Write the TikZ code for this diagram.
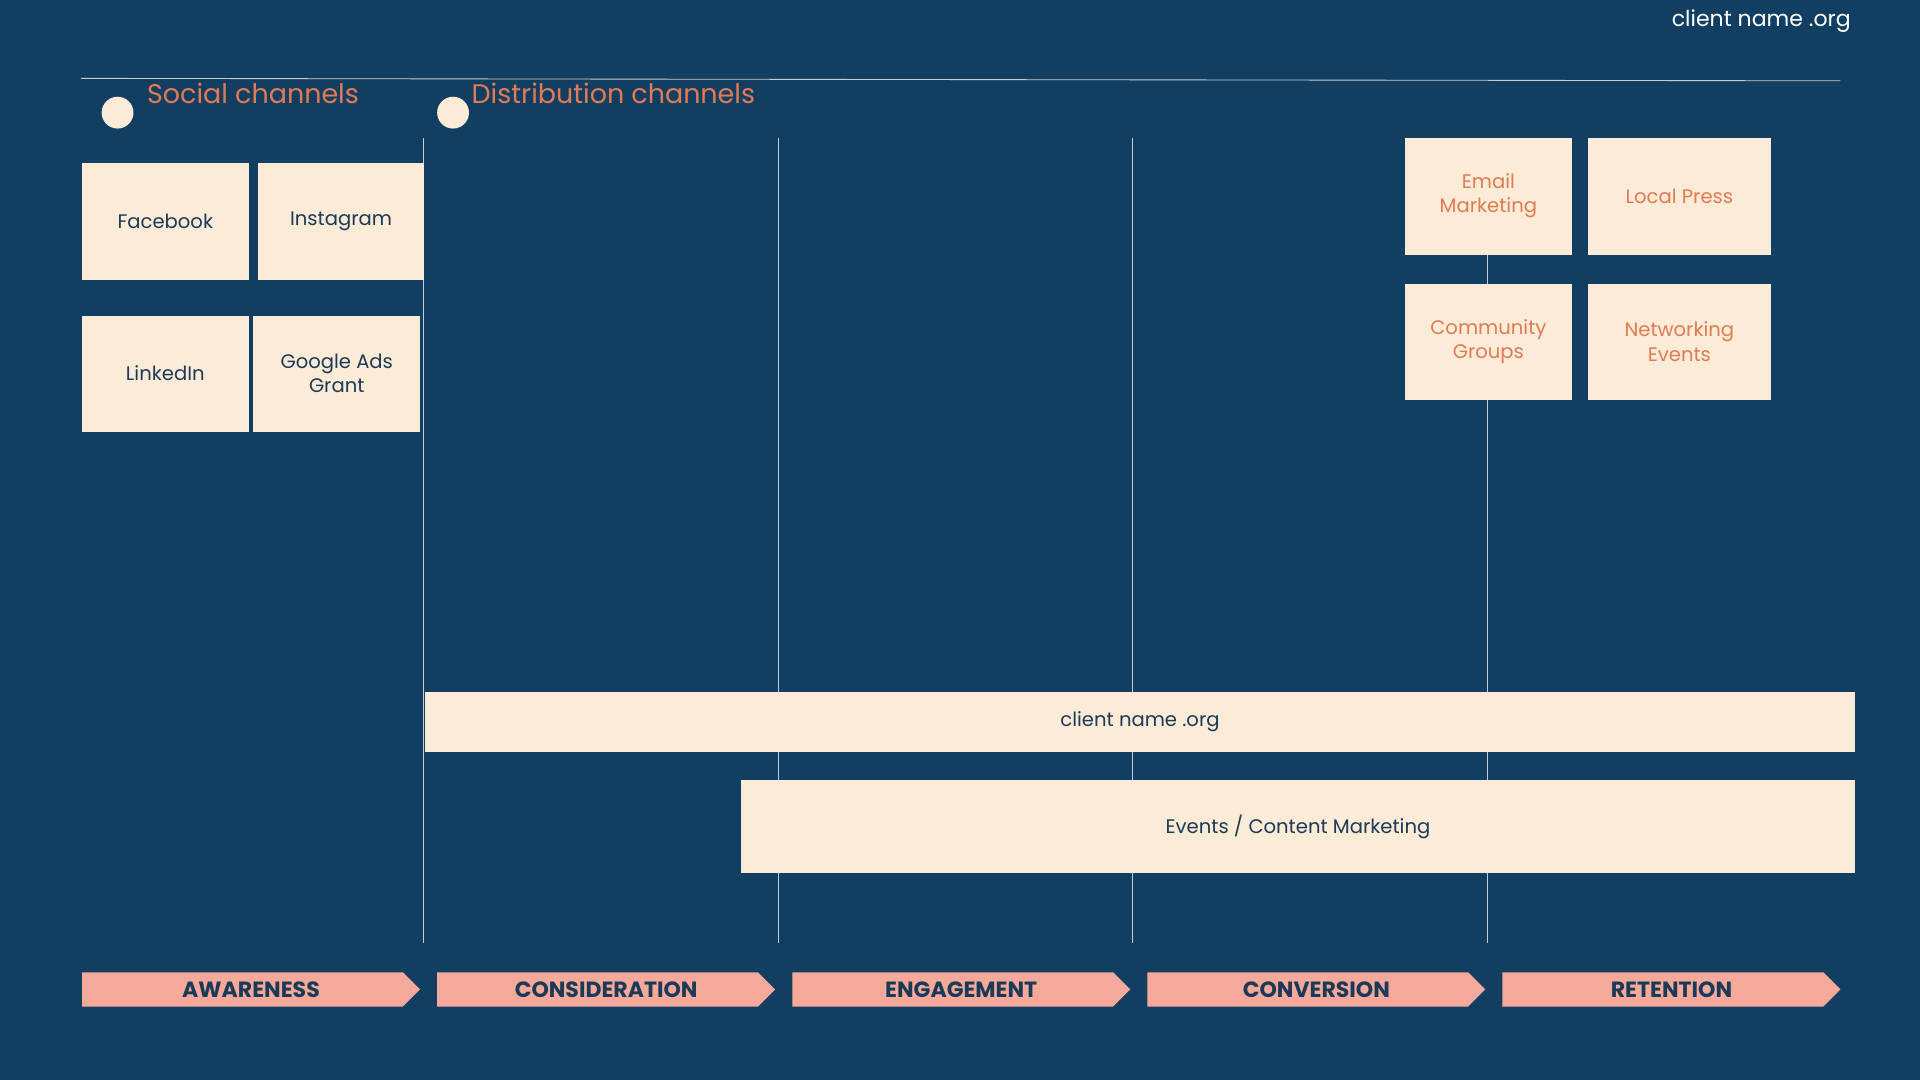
\documentclass[tikz,border=0pt]{standalone}
\usepackage{fontspec}
\setmainfont{Poppins}
\definecolor{bg}{HTML}{123F61}
\definecolor{cream}{HTML}{FCEBD6}
\definecolor{orng}{HTML}{E07B53}
\definecolor{salmon}{HTML}{F4A99B}
\definecolor{navy}{HTML}{1B3A57}
\definecolor{gline}{HTML}{C8CCD2}
\tikzset{
 card/.style={fill=cream,draw=none},
 cardtext/.style={align=center,font=\fontsize{16}{20}\selectfont},
 vline/.style={draw=gline,line width=0.7pt},
 stage/.style={fill=salmon,draw=none},
 stagetext/.style={font=\fontsize{18}{20}\selectfont\bfseries,text=navy},
}
\begin{document}
\begin{tikzpicture}[x=1pt,y=-1pt]
\fill[bg] (0,0) rectangle (1568,882);
\useasboundingbox (0,0) rectangle (1568,882);
\node[anchor=east,text=white,font=\fontsize{18}{20}\selectfont] (site) at (1515,17) {client name .org};
\coordinate (hl) at (66,64); \coordinate (hr) at (1503,66);
\draw[gline,line width=0.7pt] (hl) -- (hr);
\fill[cream] (96,92) circle (13); \fill[cream] (370,92) circle (13);
\node[anchor=west,text=orng,font=\fontsize{22}{24}\selectfont,inner sep=0] (soc) at (120,76) {Social channels};
\node[anchor=west,text=orng,font=\fontsize{22}{24}\selectfont,inner sep=0] (dist) at (385,76) {Distribution channels};
% vertical lines
\foreach \x/\n in {346/a,636/b,925/c,1215/d}{
  \coordinate (t\n) at (\x,113); \coordinate (b\n) at (\x,770);
  \draw[vline] (t\n) -- (b\n);}
% social cards
\fill[card] (67,133) rectangle (203,229); \node[cardtext,text=navy] (fb) at (135,181) {Facebook};
\fill[card] (211,133) rectangle (346,229); \node[cardtext,text=navy] (ig) at (278.5,181) {Instagram};
\fill[card] (67,258) rectangle (203,353); \node[cardtext,text=navy] (li) at (135,305) {LinkedIn};
\fill[card] (207,258) rectangle (343,353); \node[cardtext,text=navy] (ga) at (275,305) {Google Ads\\Grant};
% distribution cards
\fill[card] (1147,113) rectangle (1284,208); \node[cardtext,text=orng] (em) at (1215.5,160) {Email\\Marketing};
\fill[card] (1297,113) rectangle (1446,208); \node[cardtext,text=orng] (lp) at (1371.5,160) {Local Press};
\fill[card] (1147,232) rectangle (1284,327); \node[cardtext,text=orng] (cg) at (1215.5,279) {Community\\Groups};
\fill[card] (1297,232) rectangle (1446,327); \node[cardtext,text=orng] (ne) at (1371.5,279) {Networking\\Events};
% bars
\fill[card] (347,565) rectangle (1515,614); \node[cardtext,text=navy] (bar1) at (931,589) {client name .org};
\fill[card] (605,637) rectangle (1515,713); \node[cardtext,text=navy] (bar2) at (1060,675) {Events / Content Marketing};
% stages
\foreach \x/\t/\n in {67/AWARENESS/s1,357/CONSIDERATION/s2,647/ENGAGEMENT/s3,937/CONVERSION/s4,1227/RETENTION/s5}{
  \fill[stage] (\x,794) -- (\x+262,794) -- (\x+276,808) -- (\x+262,822) -- (\x,822) -- cycle;
  \node[stagetext] (\n) at (\x+138,808) {\t};}
\end{tikzpicture}
\end{document}
